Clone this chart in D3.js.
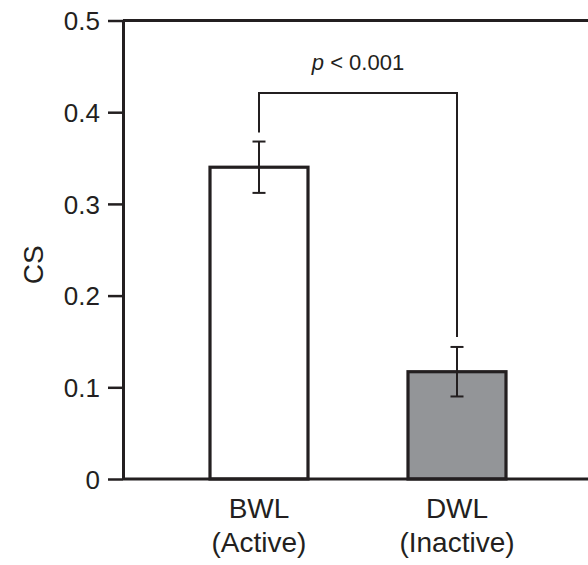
<!DOCTYPE html>
<html lang="en">
<head>
  <meta charset="utf-8" />
  <title>CS by group</title>
  <script src="https://cdn.jsdelivr.net/npm/d3@7"></script>
  <style>
    body { margin: 0; background: #fff; }
    text { font-family: "Liberation Sans", Arial, sans-serif; fill: #231f20; }
  </style>
</head>
<body>
  <div id="chart"></div>
  <script type="text/javascript">

    // data
    const groups = ["BWL", "DWL"];
    const subLabels = ["(Active)", "(Inactive)"];
    const means = [0.340, 0.117];
    const errors = [0.028, 0.027];
    const fills = ["#ffffff", "#939598"];
    const yTicks = [0, 0.1, 0.2, 0.3, 0.4, 0.5];
    const bracketLevel = 0.421;
    const pText = "< 0.001";

    const w = 588;
    const h = 565;
    const mLeft = 123, mRight = 588, mTop = 20.5, mBottom = 479;
    const ink = "#231f20";

    const svg = d3.select("#chart")
                  .append("svg")
                  .attr("width", w)
                  .attr("height", h);

    const y = d3.scaleLinear()
                .domain([0, 0.5])
                .range([mBottom, mTop]);

    const x = d3.scalePoint()
                .domain(groups)
                .range([259, 457]);

    const barW = 98;

    // y axis
    const yAxis = d3.axisLeft(y)
                    .tickValues(yTicks)
                    .tickSize(15)
                    .tickSizeOuter(0)
                    .tickPadding(8)
                    .tickFormat(d => d === 0 ? "0" : d3.format(".1f")(d));

    const gy = svg.append("g")
                  .attr("transform", `translate(${mLeft},0)`)
                  .call(yAxis);
    gy.select(".domain").attr("stroke", ink).attr("stroke-width", 3);
    gy.selectAll(".tick line").attr("stroke", ink).attr("stroke-width", 2.5);
    gy.selectAll(".tick text")
      .attr("font-size", 26)
      .attr("dy", "0.36em")
      .style("font-family", "'Liberation Sans', Arial, sans-serif")
      .attr("fill", ink);

    // top line of the frame
    svg.append("line")
       .attr("x1", mLeft).attr("x2", mRight)
       .attr("y1", y(0.5)).attr("y2", y(0.5))
       .attr("stroke", ink).attr("stroke-width", 3);

    // bars
    svg.selectAll("rect.bar")
       .data(groups)
       .enter()
       .append("rect")
       .attr("class", "bar")
       .attr("x", d => x(d) - barW / 2)
       .attr("y", (d, i) => y(means[i]))
       .attr("width", barW)
       .attr("height", (d, i) => y(0) - y(means[i]))
       .attr("fill", (d, i) => fills[i])
       .attr("stroke", ink)
       .attr("stroke-width", 3.2);

    // baseline
    svg.append("line")
       .attr("x1", mLeft).attr("x2", mRight)
       .attr("y1", y(0)).attr("y2", y(0))
       .attr("stroke", ink).attr("stroke-width", 3);

    // error bars
    const eb = svg.selectAll("g.err")
                  .data(groups)
                  .enter()
                  .append("g")
                  .attr("class", "err")
                  .attr("stroke", ink)
                  .attr("stroke-width", 2);
    eb.append("line")
      .attr("x1", d => x(d)).attr("x2", d => x(d))
      .attr("y1", (d, i) => y(means[i] + errors[i]))
      .attr("y2", (d, i) => y(means[i] - errors[i]));
    eb.append("line")
      .attr("x1", d => x(d) - 6.5).attr("x2", d => x(d) + 6.5)
      .attr("y1", (d, i) => y(means[i] + errors[i]))
      .attr("y2", (d, i) => y(means[i] + errors[i]));
    eb.append("line")
      .attr("x1", d => x(d) - 6.5).attr("x2", d => x(d) + 6.5)
      .attr("y1", (d, i) => y(means[i] - errors[i]))
      .attr("y2", (d, i) => y(means[i] - errors[i]));

    // significance bracket
    const gap = 10;
    const bx1 = x(groups[0]), bx2 = x(groups[1]);
    const yb = y(bracketLevel);
    const yl = y(means[0] + errors[0]) - gap + 1;
    const yr = y(means[1] + errors[1]) - gap;
    svg.append("path")
       .attr("d", `M${bx1},${yl}V${yb}H${bx2}V${yr}`)
       .attr("fill", "none")
       .attr("stroke", ink)
       .attr("stroke-width", 2);

    const pt = svg.append("text")
       .attr("x", (bx1 + bx2) / 2)
       .attr("y", yb - 23)
       .attr("text-anchor", "middle")
       .attr("font-size", 22);
    pt.append("tspan").attr("font-style", "italic").text("p");
    pt.append("tspan").text(" " + pText);

    // x labels
    const xl = svg.selectAll("text.xl")
                  .data(groups)
                  .enter()
                  .append("text")
                  .attr("class", "xl")
                  .attr("text-anchor", "middle")
                  .attr("font-size", 28);
    xl.append("tspan")
      .attr("x", d => x(d))
      .attr("y", 518)
      .text(d => d);
    xl.append("tspan")
      .attr("x", d => x(d))
      .attr("y", 552)
      .text((d, i) => subLabels[i]);

    // y title
    svg.append("text")
       .attr("transform", `translate(43,${(mTop + mBottom) / 2 + 15}) rotate(-90)`)
       .attr("text-anchor", "middle")
       .attr("font-size", 28)
       .text("CS");

  </script>
</body>
</html>
